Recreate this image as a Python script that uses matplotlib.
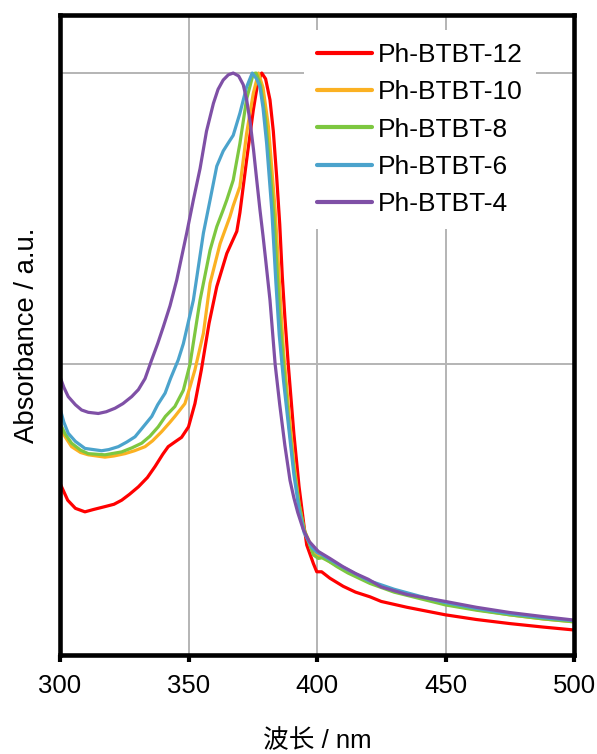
import matplotlib
matplotlib.use("Agg")
import matplotlib.pyplot as plt

plt.rcParams['font.family'] = ['Liberation Sans', 'Noto Sans CJK SC', 'DejaVu Sans']

labels = ["Ph-BTBT-12", "Ph-BTBT-10", "Ph-BTBT-8", "Ph-BTBT-6", "Ph-BTBT-4"]
colors = ["#ff0000", "#fbb122", "#7dc740", "#4ba3cc", "#7f50a6"]

wl_12 = [300, 303, 306, 309.7, 313, 317.5, 321, 324, 327, 330.5, 334, 337, 340, 342.1, 345, 347.3,
         350, 352.5, 355, 358, 361, 364.9, 368.8, 370, 372.6, 375.2, 377, 378.5, 380, 381.7, 383,
         384.3, 385.5, 386.5, 387.5, 388.8, 391, 393, 395, 396, 398.6, 399.9, 401.8, 405, 410.2,
         415, 420.6, 425, 435, 450, 462, 475, 488, 500]
abs_12 = [0.295, 0.266, 0.252, 0.246, 0.250, 0.255, 0.259, 0.266, 0.276, 0.289, 0.305, 0.324, 0.345,
          0.358, 0.367, 0.374, 0.392, 0.432, 0.49, 0.57, 0.633, 0.69, 0.728, 0.76, 0.85, 0.936, 0.985,
          1.0, 0.99, 0.954, 0.9, 0.822, 0.74, 0.65, 0.58, 0.50, 0.38, 0.29, 0.22, 0.189, 0.157, 0.143,
          0.143, 0.132, 0.118, 0.108, 0.100, 0.092, 0.082, 0.069, 0.061, 0.054, 0.048, 0.043]

wl_10 = [300, 302, 304.5, 308, 311, 317.5, 321, 325.3, 329, 333.1, 336, 339.6, 342.8, 344.7, 348.6,
         350.6, 352.5, 355.8, 358.4, 362.3, 366.1, 367.4, 370, 372.6, 375.2, 377.2, 379, 381.1, 383.7,
         385, 386, 387, 389, 391, 393, 395, 398, 400, 401, 402.5, 405, 410, 420, 430, 440, 450, 462,
         475, 488, 500]
abs_10 = [0.392, 0.375, 0.358, 0.348, 0.344, 0.340, 0.342, 0.346, 0.351, 0.358, 0.368, 0.384, 0.400,
          0.410, 0.432, 0.461, 0.49, 0.553, 0.639, 0.707, 0.753, 0.772, 0.805, 0.896, 0.965, 1.0, 0.975,
          0.908, 0.765, 0.67, 0.59, 0.52, 0.42, 0.33, 0.26, 0.215, 0.185, 0.172, 0.168, 0.168, 0.160,
          0.148, 0.126, 0.111, 0.099, 0.088, 0.078, 0.069, 0.062, 0.057]

wl_8 = [300, 302, 304.5, 308, 311, 317.5, 324, 328, 331.8, 335, 338.2, 341, 344.7, 348, 350.6, 354.5,
        358.4, 361, 363.5, 364.9, 367.4, 370, 372.6, 375.2, 376.3, 378, 380, 382, 383.3, 385.5, 387,
        389, 391, 393, 395, 398.6, 400.5, 402, 405, 407.7, 412, 420.6, 430, 440, 450, 462, 475, 488, 500]
abs_8 = [0.398, 0.38, 0.364, 0.352, 0.346, 0.344, 0.349, 0.356, 0.364, 0.376, 0.392, 0.41, 0.427,
         0.455, 0.50, 0.61, 0.696, 0.736, 0.765, 0.782, 0.816, 0.879, 0.955, 0.999, 1.0, 0.98, 0.92,
         0.82, 0.75, 0.58, 0.50, 0.40, 0.32, 0.26, 0.215, 0.172, 0.166, 0.167, 0.160, 0.152, 0.141,
         0.123, 0.108, 0.097, 0.086, 0.077, 0.069, 0.062, 0.057]

wl_6 = [300, 301.5, 303.2, 306, 309.7, 316.2, 319, 322.7, 326, 329.2, 332, 335.7, 338, 340.9, 343, 346,
        348, 351.9, 355.8, 358.4, 361, 363.5, 365.5, 367.4, 370, 372.6, 374.8, 376.5, 377.8, 379,
        380.4, 382.4, 384, 385.3, 387, 389, 391, 393, 395, 398, 400, 402, 405, 410, 420, 430, 440,
        450, 462, 475, 488, 500]
abs_6 = [0.424, 0.40, 0.381, 0.367, 0.355, 0.351, 0.353, 0.358, 0.366, 0.375, 0.39, 0.41, 0.43, 0.45,
         0.475, 0.507, 0.535, 0.61, 0.725, 0.782, 0.84, 0.866, 0.88, 0.893, 0.931, 0.976, 1.0, 0.99,
         0.976, 0.94, 0.879, 0.765, 0.64, 0.55, 0.47, 0.39, 0.31, 0.25, 0.21, 0.185, 0.176, 0.172,
         0.164, 0.151, 0.128, 0.113, 0.101, 0.090, 0.080, 0.071, 0.064, 0.059]

wl_4 = [300, 301.5, 303.2, 306, 308.4, 311, 314.9, 318, 321.4, 324.5, 327.9, 330.5, 333.1, 335.5, 338,
        340.2, 342.8, 345.4, 349.3, 351.9, 354.5, 357, 359.7, 361.5, 363.5, 365.5, 367.4, 369.5, 371.3,
        372.6, 374, 375.3, 376.5, 377.8, 379, 380, 381.7, 383.7, 385.5, 387.5, 389.5, 391, 392.5, 394.7,
        397, 400.5, 405, 410, 415, 420, 425, 435, 450, 462, 475, 488, 500]
abs_4 = [0.478, 0.46, 0.444, 0.43, 0.421, 0.417, 0.415, 0.418, 0.424, 0.432, 0.444, 0.456, 0.475,
         0.505, 0.535, 0.564, 0.60, 0.644, 0.725, 0.782, 0.836, 0.9, 0.948, 0.972, 0.988, 0.997, 1.0,
         0.995, 0.98, 0.955, 0.915, 0.868, 0.818, 0.765, 0.72, 0.68, 0.61, 0.50, 0.43, 0.36, 0.30,
         0.27, 0.245, 0.215, 0.195, 0.178, 0.166, 0.152, 0.140, 0.130, 0.117, 0.104, 0.092, 0.082,
         0.073, 0.066, 0.060]

series = [(wl_12, abs_12), (wl_10, abs_10), (wl_8, abs_8), (wl_6, abs_6), (wl_4, abs_4)]

xticks = [300, 350, 400, 450, 500]

fig = plt.figure(figsize=(5.97, 7.54), dpi=100)
ax = fig.add_axes([0.1005, 0.1313, 0.861, 0.849])

for (x, y), lab, c in zip(series, labels, colors):
    ax.plot(x, y, color=c, lw=2.3, label=lab, solid_capstyle='round', solid_joinstyle='round')

ax.set_xlim(300, 500)
ax.set_ylim(0, 1.1)
ax.set_xticks(xticks)
ax.set_xticklabels([str(t) for t in xticks])
ax.set_yticks([0.5, 1.0])
ax.set_yticklabels([])
ax.tick_params(axis='y', length=0)
ax.tick_params(axis='x', direction='out', length=5, width=3, labelsize=18.5, pad=9)

for x in [350, 400, 450]:
    ax.axvline(x, color='#b4b4b4', lw=1.4, zorder=0)
for y in [0.5, 1.0]:
    ax.axhline(y, color='#b4b4b4', lw=1.4, zorder=0)

for s in ax.spines.values():
    s.set_linewidth(3.3)
    s.set_color('black')

ax.set_ylabel("Absorbance / a.u.", fontsize=19.8, labelpad=11)
ax.set_xlabel("波长 / nm", fontsize=18.5, labelpad=22)

leg = ax.legend(loc='upper right', bbox_to_anchor=(0.952, 0.997), fontsize=19, frameon=True,
                handlelength=2.1, handletextpad=0.22, labelspacing=0.5, borderpad=0.5,
                fancybox=False, edgecolor='none', framealpha=1.0)
for l in leg.get_lines():
    l.set_linewidth(3.0)

fig.savefig("out.png", dpi=100)
